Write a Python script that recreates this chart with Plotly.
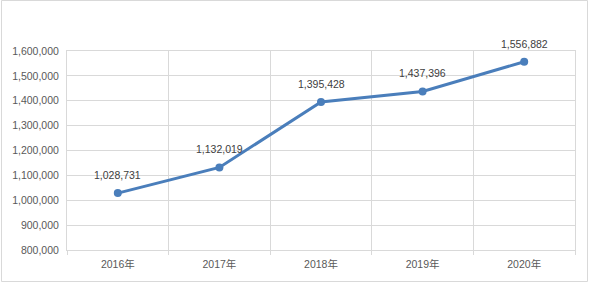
import plotly.graph_objects as go

years = ["2016年", "2017年", "2018年", "2019年", "2020年"]
values = [1028731, 1132019, 1395428, 1437396, 1556882]
y_ticks = [800000, 900000, 1000000, 1100000, 1200000, 1300000, 1400000, 1500000, 1600000]

FONT = "Liberation Sans, Noto Sans CJK SC, sans-serif"
GRID = "#d9d9d9"

fig = go.Figure(go.Scatter(
    x=years, y=values, mode="lines+markers",
    line=dict(color="#4a7ebb", width=3),
    marker=dict(color="#4a7ebb", size=8),
    hoverinfo="skip",
))

for yr, v in zip(years, values):
    fig.add_annotation(x=yr, y=v, text=f"{v:,}", showarrow=False,
                       yshift=18, font=dict(family=FONT, size=10.5, color="#404040"))

fig.update_layout(
    width=590, height=283,
    margin=dict(l=67, r=15, t=51, b=33),
    paper_bgcolor="white", plot_bgcolor="white",
    showlegend=False,
    font=dict(family=FONT, size=10.5, color="#595959"),
    shapes=[dict(type="rect", xref="paper", yref="paper",
                 x0=(1.5 - 67) / 508, x1=(587.5 - 67) / 508,
                 y0=(250 - 281.5) / 199, y1=(250 - 0.5) / 199,
                 line=dict(color=GRID, width=1))],
)
fig.update_xaxes(
    type="category", range=[-0.5, 4.5], automargin=False,
    showgrid=True, gridcolor=GRID, gridwidth=1,
    tickson="boundaries", ticks="outside", ticklen=4, tickcolor=GRID,
    showline=True, linecolor=GRID, mirror=True,
    ticklabelstandoff=4,
    tickfont=dict(family=FONT, size=10.5, color="#595959"),
    zeroline=False,
)
fig.update_yaxes(
    range=[800000, 1600000], tickvals=y_ticks, automargin=False,
    ticktext=[f"{v:,}" for v in y_ticks],
    showgrid=True, gridcolor=GRID, gridwidth=1,
    showline=True, linecolor=GRID, mirror=True,
    ticks="", ticklabelstandoff=5,
    tickfont=dict(family=FONT, size=10.5, color="#595959"),
    zeroline=False,
)

fig.write_html("out.html")
